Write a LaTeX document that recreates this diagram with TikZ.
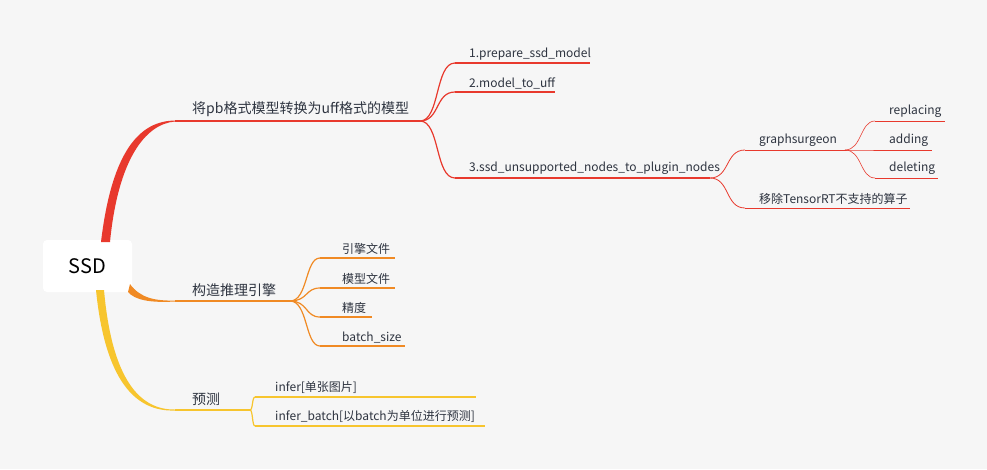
\documentclass[tikz,border=0pt]{standalone}
\usepackage{fontspec}
\setmainfont{Noto Sans CJK SC}
\definecolor{cr}{HTML}{E8392D}
\definecolor{co}{HTML}{F08A24}
\definecolor{cy}{HTML}{F7C52E}
\definecolor{bg}{HTML}{F6F6F6}
\definecolor{tx}{HTML}{2E3440}
\tikzset{
 lbl/.style={anchor=south west,inner sep=3pt,xshift=11pt,text=tx,font=\fontsize{12}{14}\selectfont},
 mlbl/.style={anchor=south west,inner sep=4pt,xshift=13pt,text=tx,font=\fontsize{14}{16}\selectfont},
 ln/.style={line width=1.2pt},
 cv/.style={line width=1.2pt},
}
\begin{document}
\begin{tikzpicture}[x=1pt,y=-1pt]
\fill[bg] (0,0) rectangle (987,469);
\useasboundingbox (0,0) rectangle (987,469);
% root
\node[fill=white,rounded corners=4pt,minimum width=89pt,minimum height=52pt,text=black,font=\fontsize{20}{22}\selectfont] (root) at (87.5,266) {SSD};
% main branches
\coordinate (a0) at (175,121); \coordinate (a1) at (420,121);
\coordinate (b0) at (175,301); \coordinate (b1) at (290,301);
\coordinate (c0) at (175,410); \coordinate (c1) at (250,410);
\fill[cr] (101,242) .. controls (112,150) and (140,121) .. (175,120.5) -- (175,121.5) .. controls (145,124) and (118,160) .. (110,242) -- cycle;
\fill[co] (130,284) .. controls (140,298) and (155,301) .. (175,300.5) -- (175,301.5) .. controls (150,303) and (135,300) .. (128,292) -- cycle;
\fill[cy] (104,290) .. controls (112,380) and (140,410) .. (175,409.5) -- (175,410.5) .. controls (135,412) and (105,380) .. (96,290) -- cycle;
\draw[cr,ln] (a0) -- (a1);
\draw[co,ln] (b0) -- (b1);
\draw[cy,ln] (c0) -- (c1);
\node[mlbl] (A) at (a0) {将pb格式模型转换为uff格式的模型};
\node[mlbl] (B) at (b0) {构造推理引擎};
\node[mlbl] (C) at (c0) {预测};
% red children
\foreach \n/\y/\xe/\t in {r1/63/590/1.prepare\_ssd\_model, r2/92/555/2.model\_to\_uff, r3/178/710/3.ssd\_unsupported\_nodes\_to\_plugin\_nodes}{
 \coordinate (\n s) at (455,\y); \coordinate (\n e) at (\xe,\y);
 \draw[cr,cv] (a1) .. controls (440,121) and (435,\y) .. (\n s);
 \draw[cr,ln] (\n s) -- (\n e);
 \node[lbl] (\n) at (\n s) {\t};
}
\foreach \n/\y/\xe/\t in {g1/150/845/graphsurgeon, g2/208/910/移除TensorRT不支持的算子}{
 \coordinate (\n s) at (745,\y); \coordinate (\n e) at (\xe,\y);
 \draw[cr,cv,line width=0.8pt] (r3e) .. controls (730,178) and (725,\y) .. (\n s);
 \draw[cr,line width=0.8pt] (\n s) -- (\n e);
 \node[lbl] (\n) at (\n s) {\t};
}
\foreach \n/\y/\xe/\t in {h1/121/945/replacing, h2/150/932/adding, h3/178/938/deleting}{
 \coordinate (\n s) at (875,\y); \coordinate (\n e) at (\xe,\y);
 \draw[cr,line width=0.6pt] (g1e) .. controls (862,150) and (860,\y) .. (\n s);
 \draw[cr,line width=0.6pt] (\n s) -- (\n e);
 \node[lbl] (\n) at (\n s) {\t};
}
% orange children
\foreach \n/\y/\xe/\t in {o1/258/395/引擎文件, o2/288/395/模型文件, o3/317/372/精度, o4/346/405/batch\_size}{
 \coordinate (\n s) at (320,\y); \coordinate (\n e) at (\xe,\y);
 \draw[co,cv] (b1) .. controls (308,301) and (305,\y) .. (\n s);
 \draw[co,ln] (\n s) -- (\n e);
 \node[lbl,xshift=8pt] (\n) at (\n s) {\t};
}
% yellow children
\foreach \n/\y/\xe/\t in {y1/397/476/{infer[单张图片]}, y2/426/485/{infer\_batch[以batch为单位进行预测]}}{
 \coordinate (\n s) at (255,\y); \coordinate (\n e) at (\xe,\y);
 \draw[cy,cv] (c1) .. controls (253,410) and (252,\y) .. (\n s);
 \draw[cy,ln] (\n s) -- (\n e);
 \node[lbl,xshift=6pt] (\n) at (\n s) {\t};
}
\end{tikzpicture}
\end{document}
